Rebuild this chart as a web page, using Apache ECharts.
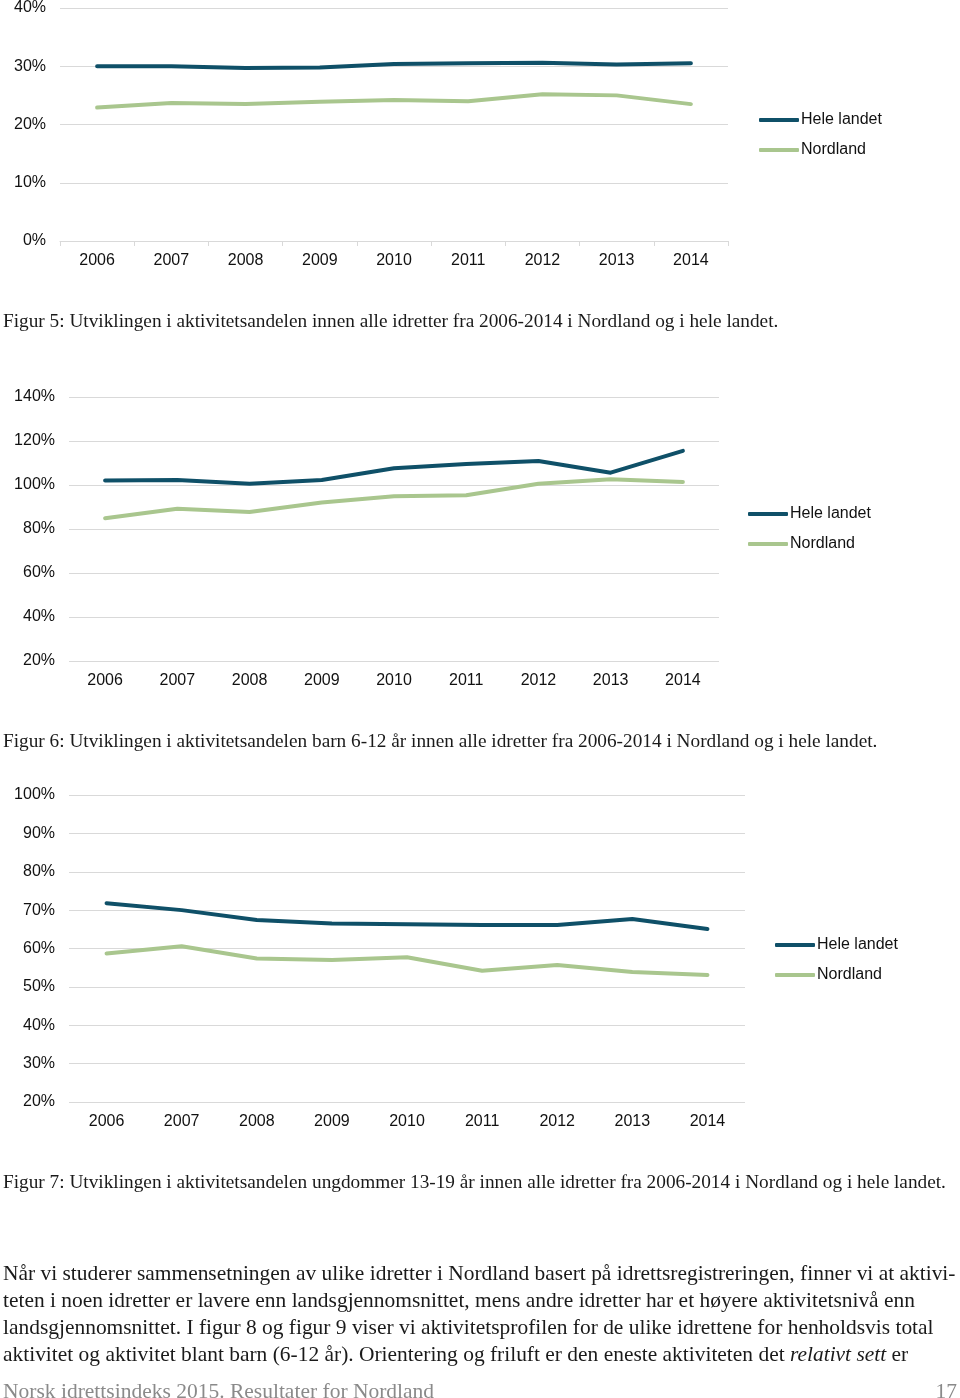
<!DOCTYPE html>
<html>
<head>
<meta charset="utf-8">
<script src="https://cdn.jsdelivr.net/npm/echarts@6/dist/echarts.min.js"></script>
<style>
html,body{margin:0;padding:0;background:#fff;}
#main{width:960px;height:1398px;}
</style>
</head>
<body>
<div id="main"></div>
<script>
// ---- data ----
const years = ['2006','2007','2008','2009','2010','2011','2012','2013','2014'];
const seriesNames = ['Hele landet','Nordland'];
const fig5Hele = [0.300,0.300,0.297,0.298,0.304,0.305,0.306,0.303,0.305];
const fig5Nord = [0.229,0.237,0.235,0.239,0.242,0.240,0.252,0.250,0.235];
const fig6Hele = [1.020,1.023,1.006,1.023,1.076,1.095,1.109,1.056,1.155];
const fig6Nord = [0.849,0.892,0.877,0.920,0.949,0.953,1.006,1.026,1.014];
const fig7Hele = [0.718,0.700,0.674,0.665,0.663,0.661,0.661,0.677,0.651];
const fig7Nord = [0.587,0.606,0.574,0.570,0.577,0.542,0.557,0.539,0.531];
const captions = [
  'Figur 5: Utviklingen i aktivitetsandelen innen alle idretter fra 2006-2014 i Nordland og i hele landet.',
  'Figur 6: Utviklingen i aktivitetsandelen barn 6-12 år innen alle idretter fra 2006-2014 i Nordland og i hele landet.',
  'Figur 7: Utviklingen i aktivitetsandelen ungdommer 13-19 år innen alle idretter fra 2006-2014 i Nordland og i hele landet.'
];
const bodyLines = [
  'Når vi studerer sammensetningen av ulike idretter i Nordland basert på idrettsregistreringen, finner vi at aktivi-',
  'teten i noen idretter er lavere enn landsgjennomsnittet, mens andre idretter har et høyere aktivitetsnivå enn',
  'landsgjennomsnittet. I figur 8 og figur 9 viser vi aktivitetsprofilen for de ulike idrettene for henholdsvis total',
  'aktivitet og aktivitet blant barn (6-12 år). Orientering og friluft er den eneste aktiviteten det {i|relativt sett} er'
];
const footerText = 'Norsk idrettsindeks 2015. Resultater for Nordland';
const pageNo = '17';

// ---- styles ----
const C_HELE = '#0f5068';
const C_NORD = '#a9c68e';
const SANS = 'Liberation Sans, Arial, Helvetica, sans-serif';
const SERIF = 'Liberation Serif, Times New Roman, serif';
const pct = v => Math.round(v * 100) + '%';

const grids = [
  {left: 60, top: 6, width: 668, height: 235},
  {left: 69, top: 397, width: 650, height: 264},
  {left: 69, top: 795, width: 676, height: 307}
];
const yRanges = [
  {min: 0, max: 0.4, interval: 0.1},
  {min: 0.2, max: 1.4, interval: 0.2},
  {min: 0.2, max: 1.0, interval: 0.1}
];
const dataSets = [[fig5Hele, fig5Nord],[fig6Hele, fig6Nord],[fig7Hele, fig7Nord]];

const xAxes = grids.map((g, i) => ({
  type: 'category', gridIndex: i, data: years, boundaryGap: true,
  axisLine: {show: i === 0, lineStyle: {color: '#d9d9d9', width: 1}},
  axisTick: {show: i === 0, length: 5, lineStyle: {color: '#d9d9d9'}},
  axisLabel: {color: '#111', fontFamily: SANS, fontSize: 16, margin: 12}
}));
const yAxes = grids.map((g, i) => ({
  type: 'value', gridIndex: i, min: yRanges[i].min, max: yRanges[i].max, interval: yRanges[i].interval,
  axisLine: {show: false}, axisTick: {show: false},
  splitLine: {lineStyle: {color: '#d9d9d9', width: 1}},
  axisLabel: {color: '#111', fontFamily: SANS, fontSize: 16, margin: 14, formatter: pct}
}));
const series = [];
dataSets.forEach((pair, i) => {
  pair.forEach((d, k) => {
    series.push({
      type: 'line', name: seriesNames[k], xAxisIndex: i, yAxisIndex: i, data: d,
      showSymbol: false, symbol: 'none', smooth: false, animation: false,
      lineStyle: {color: k === 0 ? C_HELE : C_NORD, width: 4, cap: 'round', join: 'round'},
      itemStyle: {color: k === 0 ? C_HELE : C_NORD},
      z: k === 0 ? 3 : 2
    });
  });
});
const legendPos = [{left: 759, top: 110}, {left: 748, top: 504}, {left: 775, top: 935}];
const legends = legendPos.map(p => ({
  left: p.left, top: p.top, orient: 'vertical', data: seriesNames, padding: 0,
  icon: 'roundRect', itemWidth: 40, itemHeight: 4, itemGap: 10,
  textStyle: {color: '#111', fontFamily: SANS, fontSize: 16, lineHeight: 20, padding: [0,0,0,-3]},
  selectedMode: false
}));

const graphics = [];
const capY = [323, 743, 1184];
const capSize = 19.3;
captions.forEach((t, i) => graphics.push({
  type: 'text', left: 3, top: capY[i] - capSize / 2 - 1,
  style: {text: t, fill: '#1a1a1a', font: capSize + 'px ' + SERIF}
}));
const bodySize = 21.45;
bodyLines.forEach((t, i) => graphics.push({
  type: 'text', left: 3, top: 1276 + i * 27 - bodySize / 2 - 1,
  style: {text: t, fill: '#1a1a1a', font: bodySize + 'px ' + SERIF,
    rich: {i: {fontStyle: 'italic', fontFamily: SERIF, fontSize: bodySize, fill: '#1a1a1a'}}}
}));
const footSize = 21.5;
graphics.push({type: 'text', left: 3, top: 1393 - footSize / 2 - 1,
  style: {text: footerText, fill: '#8a8a8a', font: footSize + 'px ' + SERIF}});
graphics.push({type: 'text', right: 3, top: 1393 - footSize / 2 - 1,
  style: {text: pageNo, fill: '#8a8a8a', font: footSize + 'px ' + SERIF}});

const chart = echarts.init(document.getElementById('main'), null, {renderer: 'canvas'});
chart.setOption({
  backgroundColor: '#fff',
  animation: false,
  grid: grids,
  xAxis: xAxes,
  yAxis: yAxes,
  legend: legends,
  series: series,
  graphic: graphics
});
</script>
</body>
</html>
